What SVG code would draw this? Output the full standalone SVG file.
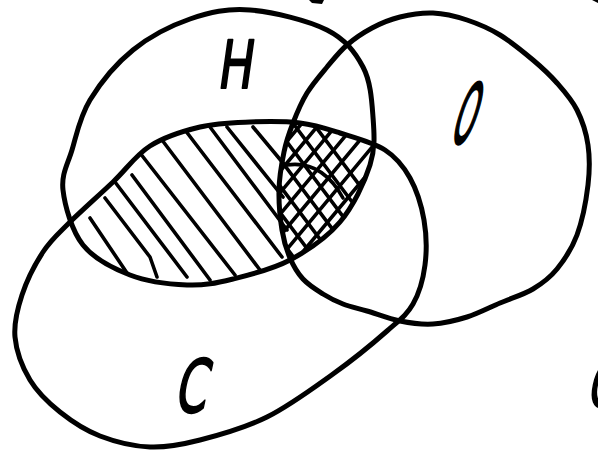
<svg xmlns="http://www.w3.org/2000/svg" xmlns:xlink="http://www.w3.org/1999/xlink" width="598" height="455" viewBox="0 0 598 455">
<style>
.ring{fill:none;stroke:#000;stroke-width:5;stroke-linejoin:round}
.hatch{fill:none;stroke:#000;stroke-width:3.6;stroke-linecap:round;stroke-linejoin:round}
.lbl{font-family:"DejaVu Sans","Liberation Sans",sans-serif;fill:#000;stroke:#000;stroke-width:2.2;stroke-linejoin:round;text-anchor:middle}
.thin{vector-effect:non-scaling-stroke;stroke-width:2.4}
</style>
<defs>
<path id="pH" d="M250,10 C272.8,11.8 308.2,20.5 327,30 S355.3,52.5 363,67 S371.8,100.7 373,117 S375.5,147.5 370,165 S353.3,206.2 340,222 S307.8,250.5 290,260 S250.2,274.8 233,279 S204.2,285.7 187,285 S147.3,281.7 130,275 S94.2,259.2 83,245 S64.8,205.8 63,190 S67.5,165 72,150 S79.8,116.7 90,100 S116.3,63.5 133,50 S170.5,25.7 190,19 S227.2,8.2 250,10 Z"/>
<path id="pC" d="M68,224 C79.7,212.3 99.3,195 113,182 S135.5,155.2 150,146 S183.3,131 200,127 S233.3,122.7 250,122 S285,121.2 300,123 S325.8,128.5 340,133 S373.3,142.5 385,150 S403.5,166.3 410,178 S421.5,205.5 424,220 S426.8,251 425,265 S419.3,293 413,304 S400.3,319.3 387,331 S353,359.7 333,374 S289.2,406 267,417 S219.5,435 200,440 S166.7,447.7 150,447 S115,441.8 100,436 S71.7,421.3 60,412 S37.5,392.5 30,380 S16.3,351.2 15,337 S17.3,309.2 22,295 S35.3,263.8 43,252 S56.3,235.7 68,224 Z"/>
<path id="pO" d="M347,45 C354.5,38.5 363.2,32.7 372,28 S389.8,19.5 400,17 S421.8,12.5 433,13 S455.8,16.3 467,20 S489,28.3 500,35 S523.5,52 533,60 S549.7,74.7 557,83 S571.8,99.7 577,110 S586.2,132.5 588,145 S589.8,170 588,185 S582.2,221 577,235 S564.3,260 557,269 S542.5,283.3 533,289 S511,298.3 500,303 S478.2,313.5 467,317 S444.2,323.3 433,324 S411,323.2 400,321 S376.5,313.8 367,311 S350.3,306.8 343,304 S329.7,298.2 323,294 S308.5,285 303,279 S293.5,266.2 290,258 S283.8,241.3 282,230 S278.7,203 279,190 S281.7,163.2 284,152 S289.2,132.8 293,123 S301.3,102.3 307,93 S320.3,75 327,67 S339.5,51.5 347,45 Z"/>
<clipPath id="cH"><use xlink:href="#pH"/></clipPath>
<clipPath id="cC"><use xlink:href="#pC"/></clipPath>
<clipPath id="cO"><use xlink:href="#pO"/></clipPath>
</defs>

<g id="hatching">
  <g clip-path="url(#cH)"><g clip-path="url(#cC)">
    <path class="hatch" d="M90,218 L127,273"/>
    <path class="hatch" d="M105,198 L150,257 L157,277"/>
    <path class="hatch" d="M115,182 L187,277"/>
    <path class="hatch" d="M132,175 L210,280"/>
    <path class="hatch" d="M140,153 L235,275"/>
    <path class="hatch" d="M162,140 L260,270"/>
    <path class="hatch" d="M185,130 L282,257"/>
    <path class="hatch" d="M210,127 L287,230"/>
    <path class="hatch" d="M227,127 L283,197"/>
    <path class="hatch" d="M253,127 L283,163"/>
    <g clip-path="url(#cO)">
      <path class="hatch" d="M156,74 L346,327 M176,74 L366,327 M196,74 L386,327 M216,74 L406,327 M236,74 L426,327 M256,74 L446,327 M276,74 L466,327"/>
      <path class="hatch" d="M158,296 L338,80 M176,296 L356,80 M194,296 L374,80 M212,296 L392,80 M230,296 L410,80 M248,296 L428,80 M266,296 L446,80"/>
      <path class="hatch" d="M287,165 Q322,160 343,198"/>
    </g>
  </g></g>
</g>

<g id="set-H">
  <use xlink:href="#pH" class="ring"/>
  <text class="lbl" font-size="66" transform="translate(234,88) skewX(-8) scale(0.7,1)">H</text>
</g>
<g id="set-O">
  <use xlink:href="#pO" class="ring"/>
  <text class="lbl thin" font-size="82" transform="translate(459,143) skewX(-18) scale(0.32,1)">O</text>
</g>
<g id="set-C">
  <use xlink:href="#pC" class="ring"/>
  <text class="lbl" font-size="73" transform="translate(189,412) skewX(-12) scale(0.62,1)">C</text>
</g>
<g id="edge-fragments">
  <text class="lbl" font-size="62" transform="translate(600,407) skewX(-12) scale(0.62,1)">C</text>
  <path d="M309,0 L324,0 L322,4 L312,3 Z" fill="#000"/>
  <path d="M592,0 L598,0 L598,3 Z" fill="#000"/>
</g>
</svg>
